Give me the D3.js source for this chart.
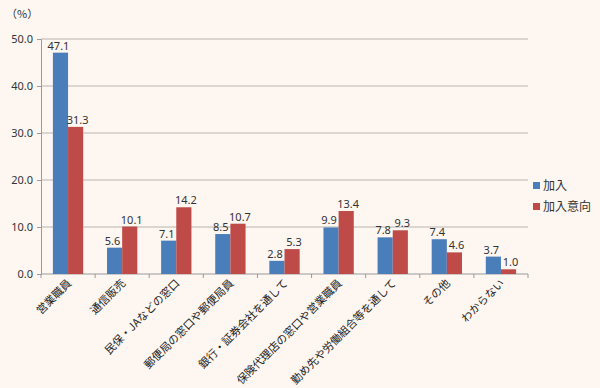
<!DOCTYPE html>
<html>
<head>
<meta charset="utf-8">
<script src="https://cdn.jsdelivr.net/npm/d3@7"></script>
<style>
  body { margin: 0; background: #fdf6f1; }
  svg { display: block; font-family: "Noto Sans CJK JP", "Noto Sans", sans-serif; }
</style>
</head>
<body>
<div id="chart"></div>
<script>
var categories = ["営業職員", "通信販売", "民保・JAなどの窓口", "郵便局の窓口や郵便局員",
  "銀行・証券会社を通して", "保険代理店の窓口や営業職員", "勤め先や労働組合等を通して", "その他", "わからない"];
var seriesNames = ["加入", "加入意向"];
var joined = [47.1, 5.6, 7.1, 8.5, 2.8, 9.9, 7.8, 7.4, 3.7];
var intent = [31.3, 10.1, 14.2, 10.7, 5.3, 13.4, 9.3, 4.6, 1.0];
var yTicks = [0, 10, 20, 30, 40, 50];
var colors = ["#4a7ebb", "#be4b48"];

var svgWidth = 600, svgHeight = 388;
var margin = { top: 39, right: 72, bottom: 114, left: 41 };
var width = svgWidth - margin.left - margin.right;
var height = svgHeight - margin.top - margin.bottom;

var svg = d3.select("#chart").append("svg")
  .attr("width", svgWidth)
  .attr("height", svgHeight);

svg.append("rect").attr("width", svgWidth).attr("height", svgHeight).attr("fill", "#fdf6f1");

var chartGroup = svg.append("g")
  .attr("transform", `translate(${margin.left}, ${margin.top})`);

var x0 = d3.scaleBand().domain(categories).range([0, width]).paddingInner(0.44).paddingOuter(0.22);
var x1 = d3.scaleBand().domain(seriesNames).range([0, x0.bandwidth()]);
var y = d3.scaleLinear().domain([0, 50]).range([height, 0]);
var band = width / categories.length;

// gridlines
chartGroup.append("g")
  .selectAll("line")
  .data(yTicks.slice(1))
  .enter()
  .append("line")
  .attr("x1", 0).attr("x2", width)
  .attr("y1", d => y(d)).attr("y2", d => y(d))
  .attr("stroke", "#bab4ae").attr("stroke-width", 1);

// y axis
var leftAxis = d3.axisLeft(y).tickValues(yTicks).tickFormat(d3.format(".1f")).tickSize(4).tickPadding(4);
var yAxisG = chartGroup.append("g").call(leftAxis);
yAxisG.select(".domain").attr("stroke", "#9a9a9a");
yAxisG.selectAll(".tick line").attr("stroke", "#9a9a9a");
yAxisG.selectAll("text").attr("font-size", 11).attr("fill", "#333")
  .attr("font-family", "'Noto Sans', sans-serif");

// x axis baseline with ticks at category boundaries
chartGroup.append("line")
  .attr("x1", 0).attr("x2", width).attr("y1", height).attr("y2", height)
  .attr("stroke", "#9a9a9a");
chartGroup.append("g")
  .selectAll("line")
  .data(d3.range(categories.length + 1))
  .enter()
  .append("line")
  .attr("x1", d => d * band).attr("x2", d => d * band)
  .attr("y1", height).attr("y2", height + 4)
  .attr("stroke", "#9a9a9a");

// bars
var data = categories.map((c, i) => ({ cat: c, vals: [joined[i], intent[i]] }));
var groups = chartGroup.selectAll(".grp")
  .data(data)
  .enter()
  .append("g")
  .attr("transform", d => `translate(${x0(d.cat)},0)`);

groups.selectAll("rect")
  .data(d => d.vals.map((v, j) => ({ name: seriesNames[j], v: v, j: j })))
  .enter()
  .append("rect")
  .attr("x", d => x1(d.name))
  .attr("y", d => y(d.v))
  .attr("width", x1.bandwidth())
  .attr("height", d => height - y(d.v))
  .attr("fill", d => colors[d.j]);

groups.selectAll("text")
  .data(d => d.vals.map((v, j) => ({ name: seriesNames[j], v: v, j: j })))
  .enter()
  .append("text")
  .attr("x", d => x1(d.name) + x1.bandwidth() / 2 + (d.j === 0 ? -2 : 2))
  .attr("y", d => y(d.v) - 3)
  .attr("text-anchor", "middle")
  .attr("font-size", 11)
  .attr("font-family", "'Noto Sans', sans-serif")
  .attr("fill", "#333")
  .text(d => d.v.toFixed(1));

// x labels rotated
chartGroup.append("g")
  .selectAll("text")
  .data(categories)
  .enter()
  .append("text")
  .attr("transform", d => `translate(${x0(d) + x0.bandwidth() / 2 + 4}, ${height + 10}) rotate(-45)`)
  .attr("text-anchor", "end")
  .attr("font-size", 11)
  .attr("fill", "#222")
  .text(d => d);

// unit label
svg.append("text")
  .attr("x", 6).attr("y", 18)
  .attr("font-size", 11)
  .attr("fill", "#333")
  .text("（%）");

// legend
var legend = svg.append("g").attr("transform", "translate(533, 178)");
seriesNames.forEach(function(name, i) {
  legend.append("rect")
    .attr("x", 0).attr("y", i * 21 + 4)
    .attr("width", 7).attr("height", 7)
    .attr("fill", colors[i]);
  legend.append("text")
    .attr("x", 10).attr("y", i * 21 + 12)
    .attr("font-size", 12)
    .attr("fill", "#333")
    .text(name);
});
</script>
</body>
</html>
